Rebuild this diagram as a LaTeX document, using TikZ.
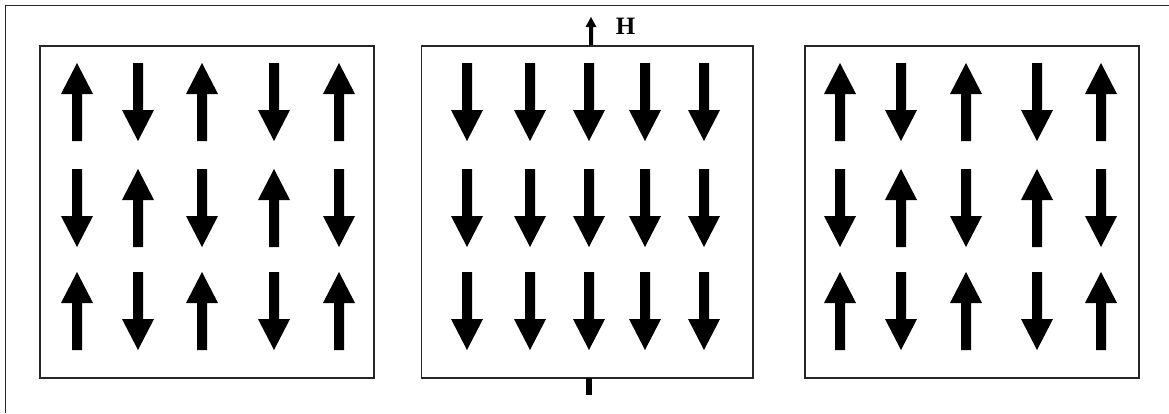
\documentclass[tikz,border=0pt]{standalone}
\usepackage{fontspec}
\setmainfont{Liberation Serif}
\begin{document}
\begin{tikzpicture}[x=1pt,y=-1pt,
  frameline/.style={line width=1.5pt,draw=black!85},
  panel/.style={frameline,rectangle,inner sep=0pt,minimum height=332pt},
  spinup/.pic={\fill[black] (0,-39) -- (16,-8) -- (5,-8) -- (5,39) -- (-5,39) -- (-5,-8) -- (-16,-8) -- cycle;},
  spindown/.pic={\fill[black] (0,39) -- (16,8) -- (5,8) -- (5,-39) -- (-5,-39) -- (-5,8) -- (-16,8) -- cycle;}
]
\useasboundingbox (0,0) rectangle (1169,413);
% outer frame (only top and left edges visible)
\draw[frameline] (1169,5.5) -- (5.5,5.5) -- (5.5,413);
% panels
\node[panel,minimum width=334pt] (left) at (207,212) {};
\node[panel,minimum width=331.5pt] (mid) at (587.25,212) {};
\node[panel,minimum width=334pt] (right) at (972,212) {};
% left panel spins
\foreach \x/\a/\b/\c in {77/spinup/spindown/spinup,138/spindown/spinup/spindown,202/spinup/spindown/spinup,274/spindown/spinup/spindown,339/spinup/spindown/spinup}{
  \pic at (\x,102) {\a};
  \pic at (\x,208) {\b};
  \pic at (\x,311) {\c};
}
% middle panel spins
\foreach \x in {467,530,589,645,704}{
  \pic at (\x,102) {spindown};
  \pic at (\x,208) {spindown};
  \pic at (\x,311) {spindown};
}
% right panel spins
\foreach \x/\a/\b/\c in {840/spinup/spindown/spinup,901/spindown/spinup/spindown,966/spinup/spindown/spinup,1037/spindown/spinup/spindown,1101/spinup/spindown/spinup}{
  \pic at (\x,102) {\a};
  \pic at (\x,208) {\b};
  \pic at (\x,311) {\c};
}
% field arrow H
\coordinate (hbase) at (591,45);
\fill[black] (hbase) ++(-2,0) -- ++(0,-18) -- ++(-3.5,0) -- (591,17) -- (596.5,27) -- (593,27) -- (593,45) -- cycle;
\node[font=\bfseries,scale=2.5,anchor=base,inner sep=0pt] (H) at (625.5,34) {H};
% bottom tick
\coordinate (tickbase) at (588.7,378);
\fill[black] (tickbase) ++(-3,0) rectangle (591.7,395);
\end{tikzpicture}
\end{document}
